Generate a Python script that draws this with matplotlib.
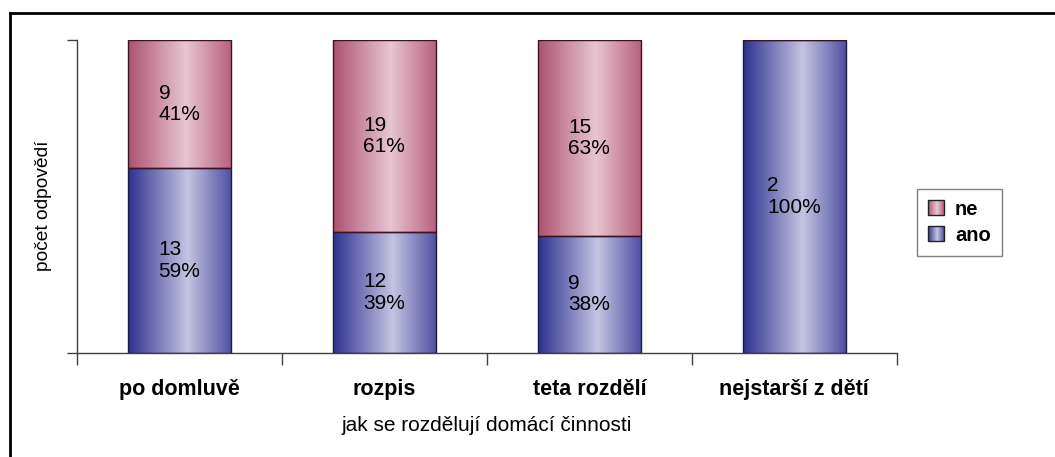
import numpy as np
import matplotlib.pyplot as plt
from matplotlib.colors import LinearSegmentedColormap
from matplotlib.legend_handler import HandlerBase
from matplotlib.patches import Rectangle
from matplotlib.lines import Line2D

plt.rcParams['font.family'] = ['Liberation Sans', 'DejaVu Sans']

# Data
categories = ["po domluvě", "rozpis", "teta rozdělí", "nejstarší z dětí"]
ano = [13, 12, 9, 2]
ne = [9, 19, 15, 0]
series_names = ["ano", "ne"]

# horizontal shading: dark edge -> light centre -> darker edge
blue_cmap = LinearSegmentedColormap.from_list(
    "blue_shade", [(0.0, "#2e3190"), (0.58, "#c4c4e2"), (1.0, "#5052a2")])
pink_cmap = LinearSegmentedColormap.from_list(
    "pink_shade", [(0.0, "#ad5270"), (0.56, "#e8c6d1"), (1.0, "#b8627e")])

totals = np.array(ano) + np.array(ne)
ano_frac = np.array(ano) / totals
ne_frac = np.array(ne) / totals


def pct(v):
    return int(np.floor(v * 100 + 0.5))


fig = plt.figure(figsize=(10.55, 4.57), dpi=100)
ax = fig.add_axes([0.073, 0.2276, 0.777, 0.685])

x = np.arange(len(categories))
width = 0.5
grad = np.linspace(0, 1, 256).reshape(1, -1)

bars_ano = ax.bar(x, ano_frac, width, facecolor="none", edgecolor="#1c1c40",
                  linewidth=1, zorder=3)
bars_ne = ax.bar(x, ne_frac, width, bottom=ano_frac, facecolor="none",
                 edgecolor="#3a1424", linewidth=1, zorder=3)

for bars, cmap in [(bars_ano, blue_cmap), (bars_ne, pink_cmap)]:
    for b in bars:
        if b.get_height() <= 0:
            continue
        x0, y0 = b.get_x(), b.get_y()
        im = ax.imshow(grad, cmap=cmap, aspect="auto", interpolation="bilinear",
                       extent=[x0, x0 + b.get_width(), y0, y0 + b.get_height()],
                       zorder=2)
        im.set_clip_path(b)

# value labels: count and share
for i in range(len(categories)):
    if ano[i] > 0:
        ax.text(x[i], ano_frac[i] / 2, f"{ano[i]}\n{pct(ano_frac[i])}%",
                ha="center", va="center", multialignment="left",
                fontsize=15, linespacing=1.15, zorder=4)
    if ne[i] > 0:
        ax.text(x[i], ano_frac[i] + ne_frac[i] / 2, f"{ne[i]}\n{pct(ne_frac[i])}%",
                ha="center", va="center", multialignment="left",
                fontsize=15, linespacing=1.15, zorder=4)

ax.set_xlim(-0.5, len(categories) - 0.5)
ax.set_ylim(0, 1)

for side in ["top", "right"]:
    ax.spines[side].set_visible(False)
for side in ["left", "bottom"]:
    ax.spines[side].set_color("#404040")
    ax.spines[side].set_linewidth(1)

ax.set_xticks(x)
ax.set_xticklabels(categories, fontsize=15.5, fontweight="bold")
ax.set_xticks(np.arange(-0.5, len(categories)), minor=True)
ax.tick_params(axis="x", which="major", length=0, pad=19)
ax.tick_params(axis="x", which="minor", length=8.5, width=1, color="#404040",
               direction="out")
ax.set_yticks([0, 1])
ax.set_yticklabels([])
ax.tick_params(axis="y", length=7.5, width=1, color="#404040", direction="out")

ax.set_xlabel("jak se rozdělují domácí činnosti", fontsize=15)
ax.xaxis.set_label_coords(0.5, -0.2)
ax.set_ylabel("počet odpovědí", fontsize=13.8)
ax.yaxis.set_label_coords(-0.03, 0.47)


class ShadedHandle(HandlerBase):
    def __init__(self, cmap):
        super().__init__()
        self.cmap = cmap

    def create_artists(self, legend, orig_handle, xdescent, ydescent,
                       width, height, fontsize, trans):
        n = 16
        artists = []
        for k in range(n):
            artists.append(Rectangle((-xdescent + width * k / n, -ydescent),
                                     width / n + 0.3, height,
                                     facecolor=self.cmap((k + 0.5) / n),
                                     edgecolor="none", transform=trans))
        artists.append(Rectangle((-xdescent, -ydescent), width, height,
                                 facecolor="none", edgecolor="#222222",
                                 linewidth=1, transform=trans))
        return artists


h_ne = Rectangle((0, 0), 1, 1)
h_ano = Rectangle((0, 0), 1, 1)
leg = fig.legend([h_ne, h_ano], ["ne", "ano"],
                 handler_map={h_ne: ShadedHandle(pink_cmap),
                              h_ano: ShadedHandle(blue_cmap)},
                 loc="center left", bbox_to_anchor=(0.869, 0.514),
                 prop={"weight": "bold", "size": 14.5}, fancybox=False,
                 edgecolor="#808080", framealpha=1, handlelength=0.8,
                 handleheight=0.8, handletextpad=0.55, borderpad=0.55,
                 labelspacing=0.35, borderaxespad=0)
leg.get_frame().set_linewidth(1)
leg._legend_box.sep = 0

# outer chart border (runs off the right and bottom edges)
fig.add_artist(Line2D([9.5 / 1055, 9.5 / 1055], [0, 1 - 12.5 / 457],
                      transform=fig.transFigure, color="black", linewidth=2))
fig.add_artist(Line2D([9.5 / 1055, 1], [1 - 12.5 / 457, 1 - 12.5 / 457],
                      transform=fig.transFigure, color="black", linewidth=2))

fig.savefig("out.png", dpi=100)
